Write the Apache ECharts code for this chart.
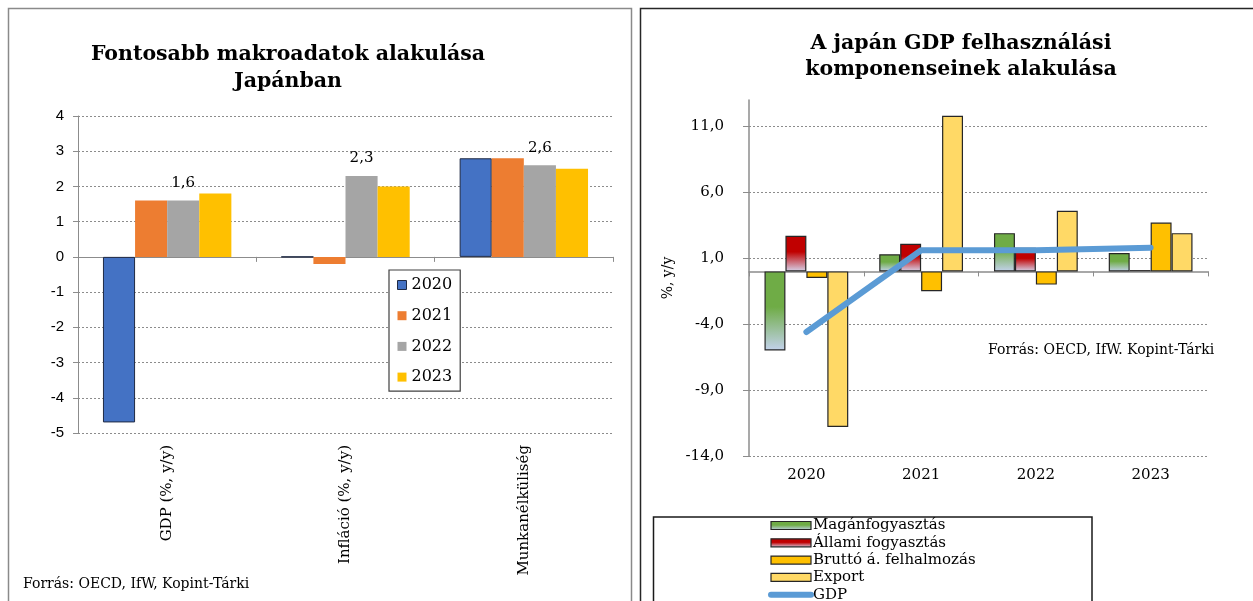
<!DOCTYPE html>
<html><head><meta charset="utf-8">
<script src="https://cdn.jsdelivr.net/npm/echarts@6/dist/echarts.min.js"></script>
<style>html,body{margin:0;padding:0;background:#fff}#c{width:1253px;height:601px}</style>
</head><body><div id="c"></div>
<script>
// ---------- DATA ----------
const leftCategories = ['GDP (%, y/y)', 'Infláció (%, y/y)', 'Munkanélküliség'];
const leftYears = ['2020', '2021', '2022', '2023'];
const left2020 = [-4.7, 0.0, 2.8];
const left2021 = [1.6, -0.2, 2.8];
const left2022 = [1.6, 2.3, 2.6];
const left2023 = [1.8, 2.0, 2.5];

const rightYears = ['2020', '2021', '2022', '2023'];
const maganfogyasztas = [-6.0, 1.3, 2.9, 1.4];
const allamiFogyasztas = [2.7, 2.1, 1.8, 0.1];
const bruttoFelhalmozas = [-0.5, -1.5, -1.0, 3.7];
const exportData = [-11.8, 11.8, 4.6, 2.9];
const gdpLine = [-4.6, 1.6, 1.6, 1.8];
const rightTicks = [-14, -9, -4, 1, 6, 11];

// ---------- STYLE ----------
const SERIF = '"DejaVu Serif", "Liberation Serif", serif';
const SANS = '"Liberation Sans", Arial, sans-serif';
const comma = v => String(v).replace('.', ',');
const grid = '#8c8c8c';
const dotted = { color: '#8c8c8c', width: 1, type: [2, 2] };
const grad = (c1, c2) => new echarts.graphic.LinearGradient(0, 0, 0, 1, [
  { offset: 0, color: c1 }, { offset: 0.45, color: c1 }, { offset: 1, color: c2 }
]);

const chart = echarts.init(document.getElementById('c'), null, { renderer: 'canvas' });

const leftColors = ['#4472C4', '#ED7D31', '#A5A5A5', '#FFC000'];
const leftData = [left2020, left2021, left2022, left2023];

const leftSeries = leftYears.map((y, i) => ({
  name: y, type: 'bar', xAxisIndex: 0, yAxisIndex: 0,
  data: leftData[i], barGap: '0%', barCategoryGap: '28%',
  itemStyle: i === 0 ? { color: leftColors[i], borderColor: '#1f2a44', borderWidth: 1 } : { color: leftColors[i] },
  label: i === 2 ? { show: true, position: 'top', distance: 10, formatter: p => comma(p.value),
    fontFamily: SERIF, fontSize: 15, color: '#000' } : { show: false },
  z: 3
}));

const bord = { borderColor: '#262626', borderWidth: 1.2 };
const rightSeries = [
  { name: 'Magánfogyasztás', data: maganfogyasztas, itemStyle: Object.assign({ color: grad('#6FAC46', '#C3D2EC') }, bord) },
  { name: 'Állami fogyasztás', data: allamiFogyasztas, itemStyle: Object.assign({ color: grad('#C00000', '#D6D4EC') }, bord) },
  { name: 'Bruttó á. felhalmozás', data: bruttoFelhalmozas, itemStyle: Object.assign({ color: '#FFC000' }, bord) },
  { name: 'Export', data: exportData, itemStyle: Object.assign({ color: '#FFD966' }, bord) }
].map(s => Object.assign({ type: 'bar', xAxisIndex: 2, yAxisIndex: 1, barGap: '0%', barCategoryGap: '27%', z: 3 }, s));

rightSeries.push({
  name: 'GDP', type: 'line', xAxisIndex: 2, yAxisIndex: 1, data: gdpLine,
  symbol: 'none', lineStyle: { color: '#5B9BD5', width: 6, cap: 'round', join: 'round' },
  itemStyle: { color: '#5B9BD5' }, z: 5
});

const TITLE_FONT = 'bold 20.5px ' + SERIF;

const option = {
  animation: false,
  backgroundColor: '#fff',
  grid: [
    { left: 78, right: 640, top: 116, bottom: 168, outerBoundsMode: 'none', containLabel: false },
    { left: 749, right: 45, top: 100, bottom: 145, outerBoundsMode: 'none', containLabel: false }
  ],
  xAxis: [
    { gridIndex: 0, type: 'category', data: leftCategories, position: 'bottom',
      axisLine: { show: false, onZero: false }, axisTick: { show: false }, splitLine: { show: false },
      axisLabel: { rotate: 90, margin: 12, fontFamily: SERIF, fontSize: 15, color: '#000' } },
    { gridIndex: 0, type: 'category', data: leftCategories, position: 'bottom',
      axisLine: { show: true, onZero: true, lineStyle: { color: grid, width: 1 } },
      axisTick: { show: true, length: 5, lineStyle: { color: grid } }, axisLabel: { show: false }, splitLine: { show: false } },
    { gridIndex: 1, type: 'category', data: rightYears, position: 'bottom',
      axisLine: { show: false, onZero: false }, axisTick: { show: false }, splitLine: { show: false },
      axisLabel: { margin: 12, fontFamily: SERIF, fontSize: 15, color: '#000' } },
    { gridIndex: 1, type: 'category', data: rightYears, position: 'bottom',
      axisLine: { show: true, onZero: true, lineStyle: { color: grid, width: 1.5 } },
      axisTick: { show: true, length: 5, lineStyle: { color: grid } }, axisLabel: { show: false }, splitLine: { show: false } }
  ],
  yAxis: [
    { gridIndex: 0, type: 'value', min: -5, max: 4, interval: 1,
      axisLine: { show: true, lineStyle: { color: grid, width: 1 } },
      axisTick: { show: true, length: 5, lineStyle: { color: grid } },
      axisLabel: { margin: 14, fontFamily: SANS, fontSize: 15, color: '#000' },
      splitLine: { show: true, lineStyle: dotted } },
    { gridIndex: 1, type: 'value', min: -14, max: 13, interval: 5,
      name: '%, y/y', nameLocation: 'middle', nameRotate: 90, nameGap: 74,
      nameTextStyle: { fontFamily: SERIF, fontSize: 14, color: '#000' },
      axisLine: { show: true, lineStyle: { color: grid, width: 1.5 } },
      axisTick: { show: true, length: 6, lineStyle: { color: grid }, customValues: rightTicks },
      axisLabel: { margin: 25, fontFamily: SERIF, fontSize: 15, color: '#000',
        customValues: rightTicks, formatter: v => v.toFixed(1).replace('.', ',') },
      splitLine: { show: true, lineStyle: dotted } }
  ],
  legend: [
    { data: leftYears.map((y, i) => ({ name: y, itemStyle: i === 0 ? { borderColor: '#1f2a44', borderWidth: 1 } : { borderWidth: 0 } })),
      orient: 'vertical', left: 389, top: 270, padding: [7, 8, 6, 8], itemGap: 14.7,
      itemWidth: 9, itemHeight: 9, icon: 'rect', backgroundColor: '#fff', borderColor: '#404040', borderWidth: 1.2,
      textStyle: { fontFamily: SERIF, fontSize: 16, lineHeight: 16, color: '#000' }, selectedMode: false },
    { data: [
        { name: 'Magánfogyasztás', icon: 'rect' },
        { name: 'Állami fogyasztás', icon: 'rect' },
        { name: 'Bruttó á. felhalmozás', icon: 'rect' },
        { name: 'Export', icon: 'rect' },
        { name: 'GDP', itemStyle: { opacity: 0 } }],
      orient: 'vertical', left: 768, top: 518, height: 140, padding: 0, itemGap: 2.3, itemWidth: 40, itemHeight: 8,
      itemStyle: { borderColor: '#262626', borderWidth: 1.2 },
      lineStyle: { width: 6, color: '#5B9BD5' },
      textStyle: { fontFamily: SERIF, fontSize: 15, lineHeight: 15, color: '#000', padding: [0, 0, 0, -3] }, selectedMode: false, z: 10 }
  ],
  graphic: [
    { type: 'rect', shape: { x: 8.5, y: 8.5, width: 623, height: 620 }, style: { fill: 'none', stroke: '#8a8a8a', lineWidth: 1.5 }, z: 0 },
    { type: 'rect', shape: { x: 640.5, y: 8.5, width: 640, height: 620 }, style: { fill: 'none', stroke: '#262626', lineWidth: 1.5 }, z: 0 },
    { type: 'rect', shape: { x: 653.5, y: 517, width: 438.5, height: 110 }, style: { fill: '#fff', stroke: '#1a1a1a', lineWidth: 1.5 }, z: 1 },
    { type: 'text', x: 288, y: 55, style: { text: 'Fontosabb makroadatok alakulása', font: TITLE_FONT, fill: '#000', textAlign: 'center', textVerticalAlign: 'middle' } },
    { type: 'text', x: 288, y: 82, style: { text: 'Japánban', font: TITLE_FONT, fill: '#000', textAlign: 'center', textVerticalAlign: 'middle' } },
    { type: 'text', x: 961, y: 44, style: { text: 'A japán GDP felhasználási', font: TITLE_FONT, fill: '#000', textAlign: 'center', textVerticalAlign: 'middle' } },
    { type: 'text', x: 961, y: 70, style: { text: 'komponenseinek alakulása', font: TITLE_FONT, fill: '#000', textAlign: 'center', textVerticalAlign: 'middle' } },
    { type: 'text', x: 23, y: 584, style: { text: 'Forrás: OECD, IfW, Kopint-Tárki', font: '14px ' + SERIF, fill: '#000', textVerticalAlign: 'middle' } },
    { type: 'text', x: 988, y: 350, style: { text: 'Forrás: OECD, IfW. Kopint-Tárki', font: '14px ' + SERIF, fill: '#000', textVerticalAlign: 'middle' } }
  ],
  series: leftSeries.concat(rightSeries)
};
chart.setOption(option);
</script></body></html>
